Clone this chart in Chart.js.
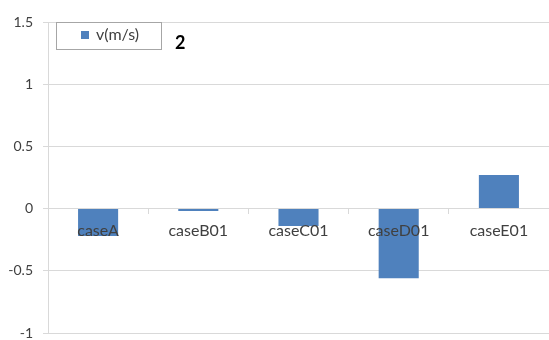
<!DOCTYPE html>
<html>
<head>
<meta charset="utf-8">
<script src="https://cdn.jsdelivr.net/npm/chart.js@4/dist/chart.umd.min.js"></script>
<style>
html,body{margin:0;padding:0;background:#fff;}
#wrap{width:549px;height:340px;position:relative;}
</style>
</head>
<body>
<div id="wrap"><canvas id="c"></canvas></div>
<script>
const categories = ['caseA', 'caseB01', 'caseC01', 'caseD01', 'caseE01'];
const velocity = [-0.22, -0.02, -0.14, -0.56, 0.27];
const seriesName = 'v(m/s)';
const yTicks = [-1, -0.5, 0, 0.5, 1, 1.5];
const noteText = '2';

const FONT = 'Lato, "Open Sans", sans-serif';
const BLUE = '#4F81BD';
const GRID = '#d9d9d9';
const TEXT = '#404040';

const legendPlugin = {
  id: 'boxLegend',
  afterDraw(chart) {
    const ctx = chart.ctx;
    const a = chart.chartArea;
    const x = a.left + 8, y = a.top, w = 105, h = 27;
    ctx.save();
    ctx.fillStyle = '#fff';
    ctx.fillRect(x, y, w, h);
    ctx.strokeStyle = '#a6a6a6';
    ctx.lineWidth = 1;
    ctx.strokeRect(x + 0.5, y + 0.5, w, h);
    ctx.fillStyle = BLUE;
    ctx.fillRect(x + 25, y + 9, 8, 8);
    ctx.fillStyle = TEXT;
    ctx.font = '16px ' + FONT;
    ctx.textBaseline = 'middle';
    ctx.textAlign = 'left';
    ctx.fillText(chart.data.datasets[0].label, x + 40, y + 13);
    ctx.fillStyle = '#000';
    ctx.font = 'bold 18px ' + FONT;
    ctx.fillText(noteText, x + w + 14, y + 21);
    ctx.restore();
  }
};

new Chart(document.getElementById('c'), {
  type: 'bar',
  data: {
    labels: categories,
    datasets: [{
      label: seriesName,
      data: velocity,
      backgroundColor: BLUE,
      borderWidth: 0,
      barPercentage: 1,
      categoryPercentage: 0.4
    }]
  },
  options: {
    responsive: true,
    maintainAspectRatio: false,
    animation: false,
    devicePixelRatio: 1,
    layout: { padding: { top: 22, bottom: 7, left: 0, right: 0 } },
    plugins: { legend: { display: false }, tooltip: { enabled: false } },
    scales: {
      x: {
        position: { y: 0 },
        offset: true,
        grid: { display: true, drawOnChartArea: false, drawTicks: true, tickLength: 5, offset: true, color: GRID, lineWidth: 1 },
        border: { display: true, color: GRID, width: 1 },
        ticks: { z: 1, color: TEXT, font: { family: FONT, size: 16 }, padding: 8, maxRotation: 0 }
      },
      y: {
        min: -1,
        max: 1.5,
        afterBuildTicks(scale) { scale.ticks = yTicks.map(v => ({ value: v })); },
        afterFit(scale) { scale.width = 48; scale.paddingTop = 0; scale.paddingBottom = 0; },
        grid: { color: GRID, lineWidth: 1, drawTicks: true, tickLength: 5 },
        border: { display: true, color: GRID, width: 1 },
        ticks: { color: TEXT, font: { family: FONT, size: 14 }, padding: 10, callback: v => String(v) }
      }
    }
  },
  plugins: [legendPlugin]
});
</script>
</body>
</html>
